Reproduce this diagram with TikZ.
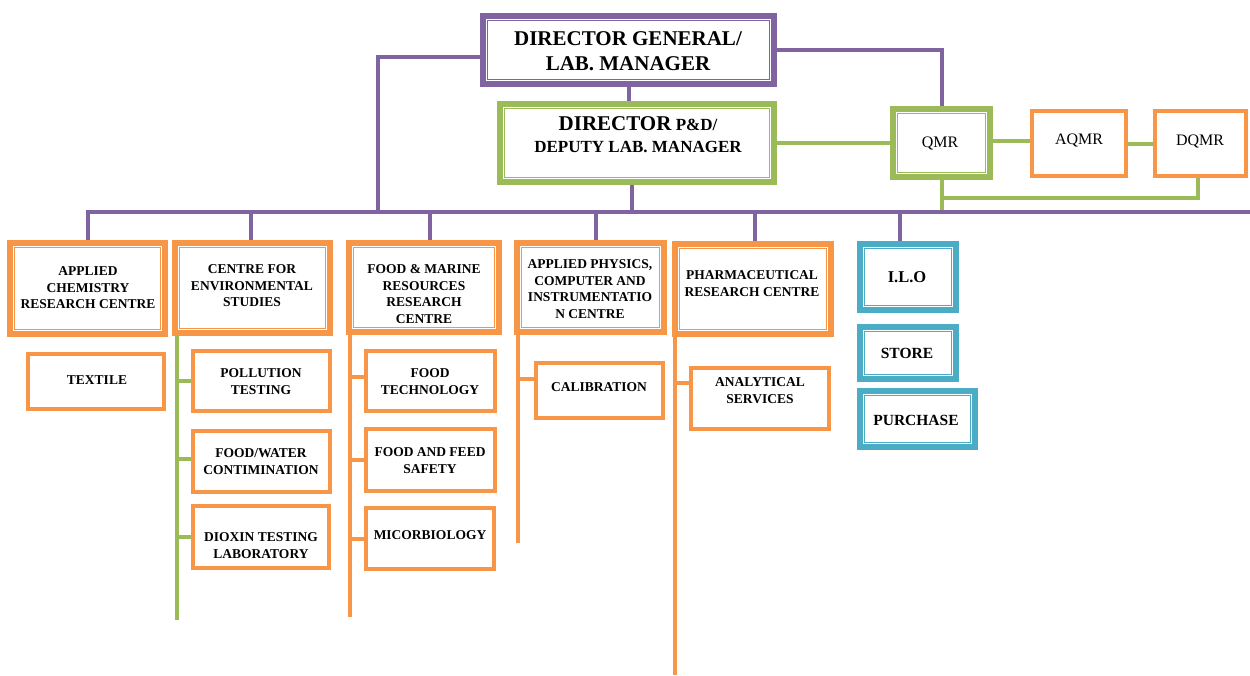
\documentclass[tikz,border=0pt]{standalone}
\usepackage{fontspec}
\setmainfont{Liberation Serif}
\usetikzlibrary{calc}
\definecolor{purp}{HTML}{8064A2}
\definecolor{grn}{HTML}{9BBB59}
\definecolor{org}{HTML}{F79646}
\definecolor{blu}{HTML}{4BACC6}
\pgfdeclarelayer{bg}
\pgfdeclarelayer{paper}
\pgfsetlayers{paper,bg,main}
\begin{document}
\begin{tikzpicture}[x=1pt,y=-1pt,
  conn/.style={line width=4pt},
  pl/.style={conn, draw=purp},
  gl/.style={conn, draw=grn},
  ol/.style={conn, draw=org},
  dbl/.style={draw=#1, line width=6pt, fill=white, inner sep=0pt,
    path picture={\draw[#1, line width=1.1pt]
      ([shift={(4.6pt,-4.6pt)}]path picture bounding box.north west) rectangle
      ([shift={(-4.6pt,4.6pt)}]path picture bounding box.south east);}},
  sgl/.style={draw=org, line width=4pt, fill=white, inner sep=0pt},
  t/.style={font=\bfseries\fontsize{13.5}{16.5}\selectfont, align=center, inner sep=0pt},
  tr/.style={font=\fontsize{16}{18}\selectfont, align=center, inner sep=0pt},
]
\begin{pgfonlayer}{paper}
\fill[white] (0,0) rectangle (1250,675);
\end{pgfonlayer}
\useasboundingbox (0,0) rectangle (1250,675);

% ---------- top level ----------
\node[dbl=purp, minimum width=291pt, minimum height=68pt] (dg) at (628.5,50) {};
\node[t, font=\bfseries\fontsize{21}{25}\selectfont] (tdg) at (628,51) {DIRECTOR GENERAL/\\LAB. MANAGER};

\node[dbl=grn, minimum width=274pt, minimum height=78pt] (dpd) at (637,143) {};
\node[t, font=\bfseries\fontsize{17}{22}\selectfont] (tdpd) at (638,134.5)
  {{\fontsize{21}{22}\selectfont DIRECTOR} P\&D/\\DEPUTY LAB. MANAGER};

\node[dbl=grn, minimum width=97pt, minimum height=68pt] (qmr) at (941.5,143) {};
\node[tr] (tqmr) at (940,143) {QMR};
\node[sgl, minimum width=94pt, minimum height=65pt] (aqmr) at (1079,143.5) {};
\node[tr] (taqmr) at (1079,140) {AQMR};
\node[sgl, minimum width=91pt, minimum height=65pt] (dqmr) at (1200.5,143.5) {};
\node[tr] (tdqmr) at (1200,141) {DQMR};

% ---------- second level ----------
\node[dbl=org, minimum width=155pt, minimum height=91pt] (acrc) at (87.5,288.5) {};
\node[t] (tacrc) at (88,288) {APPLIED\\CHEMISTRY\\RESEARCH CENTRE};
\node[dbl=org, minimum width=155pt, minimum height=90pt] (ces) at (252.5,288) {};
\node[t] (tces) at (252,286) {CENTRE FOR\\ENVIRONMENTAL\\STUDIES};
\node[dbl=org, minimum width=150pt, minimum height=89pt] (fmr) at (424,287.5) {};
\node[t] (tfmr) at (424,294) {FOOD \& MARINE\\RESOURCES\\RESEARCH\\CENTRE};
\node[dbl=org, minimum width=147pt, minimum height=89pt] (apc) at (590.5,287.5) {};
\node[t] (tapc) at (590,289) {APPLIED PHYSICS,\\COMPUTER AND\\INSTRUMENTATIO\\N CENTRE};
\node[dbl=org, minimum width=156pt, minimum height=90pt] (prc) at (753,289) {};
\node[t] (tprc) at (752,283.5) {PHARMACEUTICAL\\RESEARCH CENTRE};

\node[dbl=blu, minimum width=96pt, minimum height=66pt] (ilo) at (908,277) {};
\node[t, font=\bfseries\fontsize{16.5}{18}\selectfont] (tilo) at (907,277) {I.L.O};
\node[dbl=blu, minimum width=96pt, minimum height=52pt] (store) at (908,353) {};
\node[t, font=\bfseries\fontsize{15.5}{18}\selectfont] (tstore) at (907,353) {STORE};
\node[dbl=blu, minimum width=115pt, minimum height=56pt] (purch) at (917.5,419) {};
\node[t, font=\bfseries\fontsize{15.5}{18}\selectfont] (tpurch) at (916,420) {PURCHASE};

% ---------- third level ----------
\node[sgl, minimum width=136pt, minimum height=55pt] (tex) at (96,381.5) {};
\node[t] (ttex) at (97,380) {TEXTILE};
\node[sgl, minimum width=137pt, minimum height=60pt] (poll) at (261.5,381) {};
\node[t] (tpoll) at (261,381.5) {POLLUTION\\TESTING};
\node[sgl, minimum width=137pt, minimum height=61pt] (fw) at (261.5,461.5) {};
\node[t] (tfw) at (261,461.5) {FOOD/WATER\\CONTIMINATION};
\node[sgl, minimum width=136pt, minimum height=62pt] (diox) at (261,537) {};
\node[t] (tdiox) at (261,545.5) {DIOXIN TESTING\\LABORATORY};

\node[sgl, minimum width=129pt, minimum height=60pt] (ft) at (430.5,381) {};
\node[t] (tft) at (430,381.5) {FOOD\\TECHNOLOGY};
\node[sgl, minimum width=129pt, minimum height=62pt] (ffs) at (430.5,460) {};
\node[t] (tffs) at (430,460.5) {FOOD AND FEED\\SAFETY};
\node[sgl, minimum width=128pt, minimum height=61pt] (mic) at (430,538.5) {};
\node[t] (tmic) at (430,535) {MICORBIOLOGY};

\node[sgl, minimum width=127pt, minimum height=55pt] (cal) at (599.5,390.5) {};
\node[t] (tcal) at (599,387) {CALIBRATION};

\node[sgl, minimum width=138pt, minimum height=61pt] (anl) at (760,398.5) {};
\node[t] (tanl) at (760,390.5) {ANALYTICAL\\SERVICES};

% ---------- connectors ----------
\coordinate (busL) at (85.5,212);
\coordinate (busR) at (1250,212);
\coordinate (dgj) at (378,212);
\coordinate (cesend) at (177,620);
\coordinate (fmrend) at (350,617);
\coordinate (apcend) at (518,543);
\coordinate (prcend) at (675,675);

\begin{pgfonlayer}{bg}
  % green QMR links
  \draw[gl] (dpd.east) -- (qmr.west);
  \draw[gl] ([yshift=2pt]qmr.east) -- ([yshift=2pt]qmr.east -| aqmr.west);
  \draw[gl] (aqmr.east) -- (aqmr.east -| dqmr.west);
  \draw[gl] (qmr.south) -- (qmr.south |- busL);
  \draw[gl] ([xshift=-3pt]dqmr.south) |- ($(qmr.south)+(0,18)$);
  % purple hierarchy
  \draw[pl] (dg.south) -- (dg.south |- dpd.north);
  \draw[pl] ([yshift=-7pt]dg.west) -| (dgj);
  \draw[pl] (dg.east) -| (qmr.north);
  \draw[pl] ([xshift=-5pt]dpd.south) -- ([xshift=-5pt]dpd.south |- busL);
  \draw[pl] (busL) -- (busR);
  \draw[pl] (acrc.north) -- (acrc.north |- busL);
  \draw[pl] ([xshift=-1.5pt]ces.north) -- ([xshift=-1.5pt]ces.north |- busL);
  \draw[pl] ([xshift=6pt]fmr.north) -- ([xshift=6pt]fmr.north |- busL);
  \draw[pl] ([xshift=5.5pt]apc.north) -- ([xshift=5.5pt]apc.north |- busL);
  \draw[pl] ([xshift=2pt]prc.north) -- ([xshift=2pt]prc.north |- busL);
  \draw[pl] ([xshift=-8pt]ilo.north) -- ([xshift=-8pt]ilo.north |- busL);
  % environmental studies
  \draw[gl] (cesend |- ces.south) -- (cesend);
  \draw[gl] (poll.west) -- (poll.west -| cesend);
  \draw[gl] ([yshift=3pt]fw.west) -- ([yshift=3pt]fw.west -| cesend);
  \draw[gl] (diox.west) -- (diox.west -| cesend);
  % food & marine
  \draw[ol] (fmrend |- fmr.south) -- (fmrend);
  \draw[ol] ([yshift=4pt]ft.west) -- ([yshift=4pt]ft.west -| fmrend);
  \draw[ol] (ffs.west) -- (ffs.west -| fmrend);
  \draw[ol] (mic.west) -- (mic.west -| fmrend);
  % applied physics
  \draw[ol] (apcend |- apc.south) -- (apcend);
  \draw[ol] ([yshift=12pt]cal.west) -- ([yshift=12pt]cal.west -| apcend);
  % pharmaceutical
  \draw[ol] (prcend |- prc.south) -- (prcend);
  \draw[ol] ([yshift=16pt]anl.west) -- ([yshift=16pt]anl.west -| prcend);
\end{pgfonlayer}
\end{tikzpicture}
\end{document}
